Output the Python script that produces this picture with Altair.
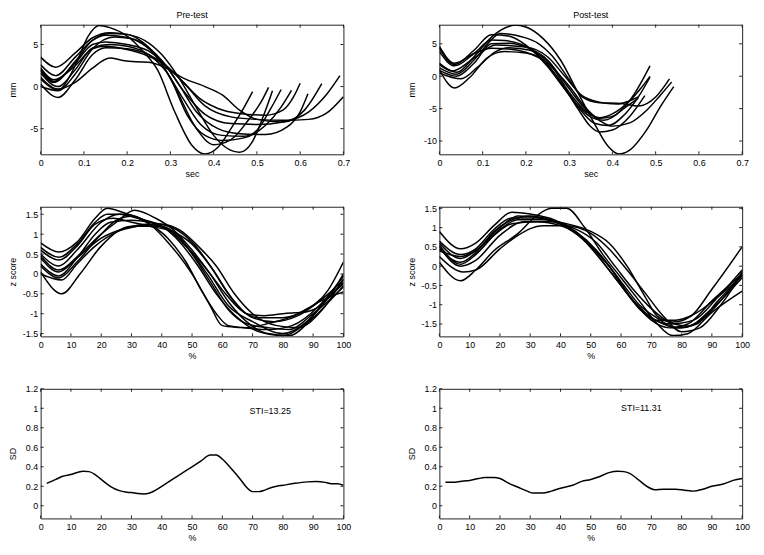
import altair as alt
import pandas as pd

# ---------------- data ----------------
# Pre-test raw displacement (sec, mm)
pre_mm = [
    ([0, 0.04, 0.08, 0.11, 0.135, 0.16, 0.2, 0.24, 0.27, 0.31, 0.35, 0.38, 0.41, 0.44, 0.47, 0.49],
     [0.9, -0.4, 2.5, 6.0, 7.25, 7.0, 6.0, 4.0, 2.0, -3.0, -7.0, -8.0, -7.2, -5.0, -2.5, -0.6]),
    ([0, 0.03, 0.08, 0.12, 0.16, 0.2, 0.23, 0.27, 0.31, 0.36, 0.4, 0.44, 0.48, 0.51, 0.527],
     [2.0, 0.5, 3.0, 5.5, 6.3, 6.2, 5.5, 3.5, 0.0, -5.0, -6.9, -6.3, -4.0, -1.8, -0.1]),
    ([0, 0.035, 0.08, 0.12, 0.16, 0.2, 0.24, 0.28, 0.32, 0.36, 0.4, 0.43, 0.46, 0.49, 0.515, 0.536],
     [3.5, 2.3, 4.0, 5.8, 6.4, 6.2, 5.5, 3.8, 1.0, -2.5, -5.8, -7.3, -7.8, -6.5, -3.5, -0.5]),
    ([0, 0.04, 0.08, 0.12, 0.16, 0.2, 0.25, 0.29, 0.33, 0.37, 0.42, 0.47, 0.5, 0.53, 0.556],
     [1.6, 0.0, 2.0, 4.6, 5.0, 4.8, 3.8, 1.8, -1.5, -4.5, -5.8, -5.9, -5.2, -2.8, -0.35]),
    ([0, 0.035, 0.08, 0.12, 0.15, 0.18, 0.22, 0.26, 0.3, 0.34, 0.38, 0.42, 0.47, 0.52, 0.555, 0.58],
     [2.6, 1.3, 3.5, 5.5, 6.1, 6.0, 5.5, 4.0, 1.0, -3.5, -5.8, -6.4, -6.1, -4.6, -2.5, -0.45]),
    ([0, 0.04, 0.08, 0.12, 0.15, 0.2, 0.25, 0.29, 0.33, 0.37, 0.41, 0.46, 0.52, 0.56, 0.585, 0.6],
     [0.3, -1.3, 0.8, 3.8, 4.6, 4.5, 3.8, 2.5, 0.5, -1.5, -2.6, -3.2, -3.4, -2.8, -1.2, 0.4]),
    ([0, 0.03, 0.08, 0.12, 0.15, 0.2, 0.25, 0.28, 0.32, 0.36, 0.41, 0.46, 0.52, 0.57, 0.6, 0.618],
     [1.9, 0.6, 2.8, 5.0, 5.3, 5.0, 4.2, 3.0, 0.2, -3.0, -5.0, -5.6, -5.7, -4.8, -3.0, -0.85]),
    ([0, 0.04, 0.08, 0.12, 0.16, 0.19, 0.22, 0.25, 0.29, 0.33, 0.38, 0.42, 0.46, 0.5, 0.56, 0.61, 0.65],
     [1.1, -0.3, 0.5, 2.2, 3.4, 3.1, 2.95, 2.9, 2.2, 1.0, 0.0, -1.0, -2.8, -3.9, -4.2, -2.8, 0.35]),
    ([0, 0.03, 0.08, 0.12, 0.15, 0.2, 0.24, 0.28, 0.33, 0.38, 0.44, 0.5, 0.56, 0.62, 0.66, 0.7],
     [2.2, 0.8, 2.5, 4.5, 4.8, 4.4, 3.8, 2.8, 0.5, -2.3, -3.6, -3.9, -4.0, -3.9, -3.2, -1.2]),
    ([0, 0.04, 0.08, 0.12, 0.17, 0.21, 0.25, 0.29, 0.33, 0.38, 0.44, 0.5, 0.56, 0.62, 0.66, 0.692],
     [0.0, -0.5, 1.5, 4.5, 5.9, 5.7, 4.6, 2.5, -0.5, -3.3, -4.4, -4.5, -4.2, -3.0, -1.0, 1.3]),
]

# Post-test raw displacement (sec, mm)
post_mm = [
    ([0, 0.035, 0.08, 0.12, 0.16, 0.2, 0.25, 0.29, 0.33, 0.36, 0.39, 0.43, 0.46, 0.487],
     [4.3, 1.8, 4.0, 6.4, 6.2, 4.8, 1.5, -2.0, -5.5, -7.3, -7.6, -5.8, -3.2, -0.15]),
    ([0, 0.035, 0.07, 0.11, 0.15, 0.2, 0.24, 0.28, 0.32, 0.35, 0.37, 0.4, 0.44, 0.475],
     [1.0, -1.8, -0.2, 2.8, 3.8, 3.6, 2.5, -0.8, -5.0, -7.8, -8.6, -8.3, -6.2, -3.0]),
    ([0, 0.04, 0.08, 0.12, 0.15, 0.175, 0.2, 0.24, 0.28, 0.32, 0.36, 0.39, 0.415, 0.44, 0.48, 0.51, 0.542],
     [2.0, 0.6, 3.0, 6.0, 7.4, 7.9, 7.6, 5.8, 2.5, -2.5, -7.5, -10.8, -12.0, -11.4, -8.2, -4.8, -1.6]),
    ([0, 0.035, 0.08, 0.12, 0.15, 0.2, 0.24, 0.28, 0.32, 0.35, 0.38, 0.42, 0.45, 0.487],
     [3.8, 1.6, 3.5, 5.6, 5.5, 4.6, 2.5, -1.0, -4.5, -6.3, -6.8, -5.3, -2.8, 1.6]),
    ([0, 0.04, 0.08, 0.12, 0.14, 0.19, 0.23, 0.26, 0.3, 0.33, 0.37, 0.42, 0.46, 0.5, 0.532],
     [1.3, 0.3, 2.5, 5.6, 6.6, 6.1, 5.0, 3.2, -0.5, -3.2, -4.1, -4.2, -4.6, -3.2, -0.4]),
    ([0, 0.04, 0.08, 0.12, 0.16, 0.2, 0.25, 0.29, 0.33, 0.37, 0.4, 0.44, 0.48, 0.51, 0.537],
     [0.9, 0.0, 2.0, 5.0, 5.1, 4.5, 2.5, -1.0, -4.5, -6.8, -7.7, -7.2, -5.2, -3.0, -0.9]),
    ([0, 0.03, 0.08, 0.13, 0.2, 0.25, 0.29, 0.33, 0.37, 0.41, 0.44, 0.46],
     [1.8, 0.8, 2.8, 4.8, 4.5, 3.0, 0.0, -3.0, -4.0, -4.3, -3.8, -3.2]),
    ([0, 0.05, 0.09, 0.13, 0.16, 0.21, 0.26, 0.3, 0.34, 0.37, 0.4, 0.44, 0.47, 0.487],
     [0.5, -0.4, 1.5, 3.8, 4.4, 4.0, 1.5, -2.5, -5.5, -6.4, -5.8, -3.8, -1.5, 0.0]),
    ([0, 0.035, 0.08, 0.12, 0.16, 0.2, 0.25, 0.3, 0.34, 0.37, 0.4, 0.43, 0.46],
     [4.6, 2.0, 3.5, 4.3, 4.2, 3.7, 2.0, -1.5, -5.0, -6.5, -6.2, -4.8, -3.4]),
]

# Pre-test normalised (%, z score)
pre_z = [
    ([0, 7, 13, 20, 30, 40, 48, 55, 62, 70, 80, 88, 95, 100],
     [0.05, -0.5, 0.0, 0.7, 1.2, 1.2, 0.7, 0.0, -0.8, -1.2, -1.5, -1.2, -0.6, -0.2]),
    ([0, 6, 12, 18, 22, 27, 35, 42, 48, 53, 58, 62, 68, 75, 85, 95, 100],
     [0.78, 0.55, 0.8, 1.4, 1.65, 1.55, 1.3, 0.9, 0.3, -0.4, -1.0, -1.3, -1.35, -1.25, -1.0, -0.4, 0.3]),
    ([0, 6, 12, 18, 22, 28, 36, 42, 50, 56, 60, 66, 75, 83, 92, 100],
     [0.67, 0.42, 0.75, 1.3, 1.5, 1.5, 1.25, 0.8, 0.0, -0.8, -1.3, -1.35, -1.4, -1.3, -0.8, -0.05]),
    ([0, 6, 12, 20, 26, 32, 40, 46, 52, 58, 65, 72, 80, 88, 95, 100],
     [0.5, 0.2, 0.6, 1.3, 1.5, 1.4, 1.2, 0.8, 0.2, -0.5, -1.1, -1.45, -1.55, -1.2, -0.6, -0.25]),
    ([0, 6, 13, 20, 25, 31, 38, 44, 50, 56, 62, 68, 75, 82, 90, 100],
     [0.45, 0.1, 0.5, 1.0, 1.3, 1.6, 1.4, 1.1, 0.6, 0.0, -0.7, -1.2, -1.5, -1.55, -1.1, -0.3]),
    ([0, 6, 12, 20, 28, 35, 42, 48, 55, 60, 66, 72, 80, 88, 95, 100],
     [0.4, 0.05, 0.4, 0.9, 1.15, 1.25, 1.1, 0.7, 0.1, -0.4, -0.9, -1.1, -1.1, -0.9, -0.5, -0.15]),
    ([0, 6, 12, 18, 23, 30, 36, 44, 50, 57, 63, 70, 77, 85, 92, 100],
     [0.25, -0.05, 0.4, 1.0, 1.3, 1.35, 1.3, 1.15, 0.8, 0.1, -0.6, -1.1, -1.2, -1.05, -0.7, -0.45]),
    ([0, 6, 12, 20, 25, 30, 36, 43, 50, 56, 62, 68, 74, 80, 88, 95, 100],
     [0.2, -0.1, 0.3, 1.0, 1.35, 1.45, 1.3, 1.1, 0.75, 0.2, -0.5, -1.0, -1.05, -1.0, -0.95, -0.6, 0.0]),
    ([0, 6, 12, 18, 24, 30, 36, 44, 50, 56, 62, 68, 75, 82, 90, 100],
     [0.6, 0.35, 0.7, 1.25, 1.4, 1.3, 1.2, 1.05, 0.5, -0.2, -0.9, -1.25, -1.35, -1.4, -1.0, -0.33]),
    ([0, 7, 12, 18, 25, 32, 40, 46, 52, 58, 64, 70, 78, 85, 93, 100],
     [0.0, -0.15, 0.25, 0.7, 1.05, 1.2, 1.25, 1.1, 0.7, 0.2, -0.5, -1.0, -1.3, -1.35, -0.9, -0.12]),
]

# Post-test normalised (%, z score)
post_z = [
    ([0, 7, 12, 18, 24, 30, 38, 45, 52, 58, 64, 70, 76, 82, 90, 100],
     [0.9, 0.45, 0.6, 1.05, 1.4, 1.35, 1.2, 0.9, 0.4, -0.2, -0.9, -1.4, -1.6, -1.5, -0.9, -0.2]),
    ([0, 7, 12, 18, 26, 32, 37, 42, 48, 54, 60, 66, 72, 77, 82, 90, 100],
     [0.1, -0.38, -0.1, 0.4, 0.85, 1.3, 1.5, 1.5, 1.0, 0.3, -0.3, -0.9, -1.5, -1.8, -1.75, -1.2, -0.65]),
    ([0, 7, 12, 18, 24, 32, 40, 48, 54, 60, 66, 72, 78, 85, 92, 100],
     [0.65, 0.3, 0.45, 0.95, 1.25, 1.25, 1.1, 0.7, 0.2, -0.4, -1.0, -1.35, -1.6, -1.5, -0.9, -0.25]),
    ([0, 7, 12, 20, 26, 34, 42, 50, 56, 62, 68, 74, 80, 88, 95, 100],
     [0.6, 0.2, 0.4, 1.0, 1.3, 1.25, 1.05, 0.5, 0.0, -0.7, -1.2, -1.5, -1.6, -1.3, -0.7, -0.15]),
    ([0, 7, 12, 20, 26, 34, 42, 50, 56, 62, 68, 72, 77, 83, 90, 100],
     [0.55, 0.05, 0.3, 0.95, 1.2, 1.2, 1.1, 0.9, 0.6, 0.0, -0.8, -1.3, -1.45, -1.3, -0.6, 0.5]),
    ([0, 7, 12, 20, 28, 36, 44, 52, 58, 64, 70, 76, 82, 90, 100],
     [0.5, 0.0, 0.15, 0.8, 1.15, 1.15, 1.0, 0.6, 0.0, -0.6, -1.1, -1.45, -1.55, -1.1, -0.3]),
    ([0, 7, 12, 18, 24, 30, 38, 46, 52, 58, 64, 70, 76, 84, 92, 100],
     [0.45, 0.1, 0.35, 0.9, 1.2, 1.3, 1.15, 0.8, 0.3, -0.3, -0.9, -1.35, -1.5, -1.4, -0.8, -0.1]),
    ([0, 8, 12, 20, 26, 34, 42, 50, 56, 62, 68, 74, 80, 86, 93, 100],
     [0.25, -0.15, -0.1, 0.45, 0.8, 1.05, 1.05, 0.85, 0.45, -0.1, -0.7, -1.3, -1.7, -1.6, -1.0, -0.2]),
    ([0, 7, 12, 18, 24, 32, 40, 48, 54, 60, 66, 72, 78, 84, 92, 100],
     [0.4, 0.25, 0.4, 0.8, 1.1, 1.15, 1.05, 0.65, 0.1, -0.5, -1.1, -1.4, -1.4, -1.25, -0.8, -0.25]),
]

# Standard deviation curves (%, SD)
pre_sd_x = [2, 5, 7, 10, 14, 16, 18, 20, 23, 26, 28, 30, 32, 34, 36, 38, 40, 43, 46, 50, 53, 56,
            58, 60, 63, 66, 68, 70, 72, 74, 76, 78, 80, 84, 88, 91, 94, 96, 98, 100]
pre_sd_y = [0.23, 0.27, 0.3, 0.32, 0.355, 0.35, 0.32, 0.27, 0.2, 0.155, 0.14, 0.135, 0.125, 0.12,
            0.13, 0.16, 0.2, 0.26, 0.32, 0.4, 0.46, 0.52, 0.52, 0.48, 0.38, 0.27, 0.19, 0.145,
            0.145, 0.16, 0.185, 0.2, 0.21, 0.23, 0.245, 0.25, 0.24, 0.225, 0.225, 0.21]
post_sd_x = [2, 5, 8, 10, 13, 15, 18, 20, 23, 26, 29, 31, 34, 37, 40, 44, 47, 50, 53, 56, 59, 61,
             63, 66, 69, 71, 74, 78, 81, 84, 87, 90, 94, 97, 100]
post_sd_y = [0.24, 0.24, 0.255, 0.26, 0.28, 0.29, 0.29, 0.28, 0.23, 0.19, 0.15, 0.13, 0.13, 0.15,
             0.18, 0.21, 0.25, 0.27, 0.3, 0.34, 0.355, 0.35, 0.33, 0.26, 0.19, 0.165, 0.17, 0.17,
             0.16, 0.15, 0.17, 0.2, 0.225, 0.26, 0.28]

sti_labels = ["STI=13.25", "STI=11.31"]
sti_x = [69, 60]
sti_y = [0.97, 1.0]

sec_ticks = [0, 0.1, 0.2, 0.3, 0.4, 0.5, 0.6, 0.7]
pct_ticks = [0, 10, 20, 30, 40, 50, 60, 70, 80, 90, 100]
pre_mm_ticks = [-5, 0, 5]
post_mm_ticks = [-10, -5, 0, 5]
z_ticks = [-1.5, -1, -0.5, 0, 0.5, 1, 1.5]
sd_ticks = [0, 0.2, 0.4, 0.6, 0.8, 1, 1.2]

# ---------------- chart ----------------
FONT = "Liberation Sans"
W, H = 306, 131
TK = 3
FS = 9
FRAME = "#222222"


def long_df(curves):
    rows = []
    for i, (xs, ys) in enumerate(curves):
        for x, y in zip(xs, ys):
            rows.append({"x": x, "y": y, "c": i})
    return pd.DataFrame(rows)


def panel(df, xdom, ydom, xticks, yticks, xtitle, ytitle, title=None, note=None):
    xs = alt.Scale(domain=xdom, nice=False, zero=False)
    ys = alt.Scale(domain=ydom, nice=False, zero=False)
    lab = "'' + datum.value"
    common = dict(labelExpr=lab, ticks=False, domain=False, grid=False, labelFlush=False,
                  labelFont=FONT, titleFont=FONT, labelFontSize=FS, titleFontSize=FS,
                  labelColor="black", titleColor="black", titleFontWeight="normal")
    xax = alt.Axis(values=xticks, title=xtitle, labelPadding=4, titlePadding=2, **common)
    yax = alt.Axis(values=yticks, title=ytitle, labelPadding=3, titlePadding=3,
                   minExtent=20, maxExtent=20, **common)
    lines = alt.Chart(df).mark_line(color="black", strokeWidth=1.5, interpolate="monotone",
                                    clip=True).encode(
        x=alt.X("x:Q", scale=xs, axis=xax),
        y=alt.Y("y:Q", scale=ys, axis=yax),
        detail="c:N",
    )
    xt = pd.DataFrame({"x": xticks})
    yt = pd.DataFrame({"y": yticks})
    xb = alt.Chart(xt).mark_rule(color=FRAME, strokeWidth=1).encode(
        x=alt.X("x:Q", scale=xs, axis=xax), y=alt.value(H), y2=alt.value(H - TK))
    xtp = alt.Chart(xt).mark_rule(color=FRAME, strokeWidth=1).encode(
        x=alt.X("x:Q", scale=xs, axis=xax), y=alt.value(0), y2=alt.value(TK))
    yl = alt.Chart(yt).mark_rule(color=FRAME, strokeWidth=1).encode(
        y=alt.Y("y:Q", scale=ys, axis=yax), x=alt.value(0), x2=alt.value(TK))
    yr = alt.Chart(yt).mark_rule(color=FRAME, strokeWidth=1).encode(
        y=alt.Y("y:Q", scale=ys, axis=yax), x=alt.value(W), x2=alt.value(W - TK))
    layers = [lines, xb, xtp, yl, yr]
    if note is not None:
        layers.append(
            alt.Chart(note).mark_text(align="left", baseline="middle", font=FONT,
                                      fontSize=FS, color="black").encode(
                x=alt.X("x:Q", scale=xs, axis=xax),
                y=alt.Y("y:Q", scale=ys, axis=yax),
                text="t:N"))
    props = dict(width=W, height=H)
    if title:
        props["title"] = alt.TitleParams(title, fontSize=FS, font=FONT, fontWeight="normal",
                                         offset=4, color="black")
    return alt.layer(*layers).properties(**props)


p1 = panel(long_df(pre_mm), [0, 0.7], [-8.05, 7.35], sec_ticks, pre_mm_ticks, "sec", "mm",
           title="Pre-test")
p2 = panel(long_df(post_mm), [0, 0.7], [-12.05, 7.95], sec_ticks, post_mm_ticks, "sec", "mm",
           title="Post-test")
p3 = panel(long_df(pre_z), [0, 100], [-1.57, 1.69], pct_ticks, z_ticks, "%", "z score")
p4 = panel(long_df(post_z), [0, 100], [-1.82, 1.54], pct_ticks, z_ticks, "%", "z score")
p5 = panel(long_df([(pre_sd_x, pre_sd_y)]), [0, 100], [-0.13, 1.2], pct_ticks, sd_ticks, "%", "SD",
           note=pd.DataFrame({"x": [sti_x[0]], "y": [sti_y[0]], "t": [sti_labels[0]]}))
p6 = panel(long_df([(post_sd_x, post_sd_y)]), [0, 100], [-0.13, 1.2], pct_ticks, sd_ticks, "%", "SD",
           note=pd.DataFrame({"x": [sti_x[1]], "y": [sti_y[1]], "t": [sti_labels[1]]}))

chart = alt.concat(p1, p2, p3, p4, p5, p6, columns=2, spacing={"row": 53, "column": 97},
                   bounds="flush").properties(
    padding={"left": 0, "top": 0, "right": 5, "bottom": 0}
).configure_view(
    stroke=FRAME, strokeWidth=1
)

chart.save("out.html", embed_options={"renderer": "svg", "actions": False})
